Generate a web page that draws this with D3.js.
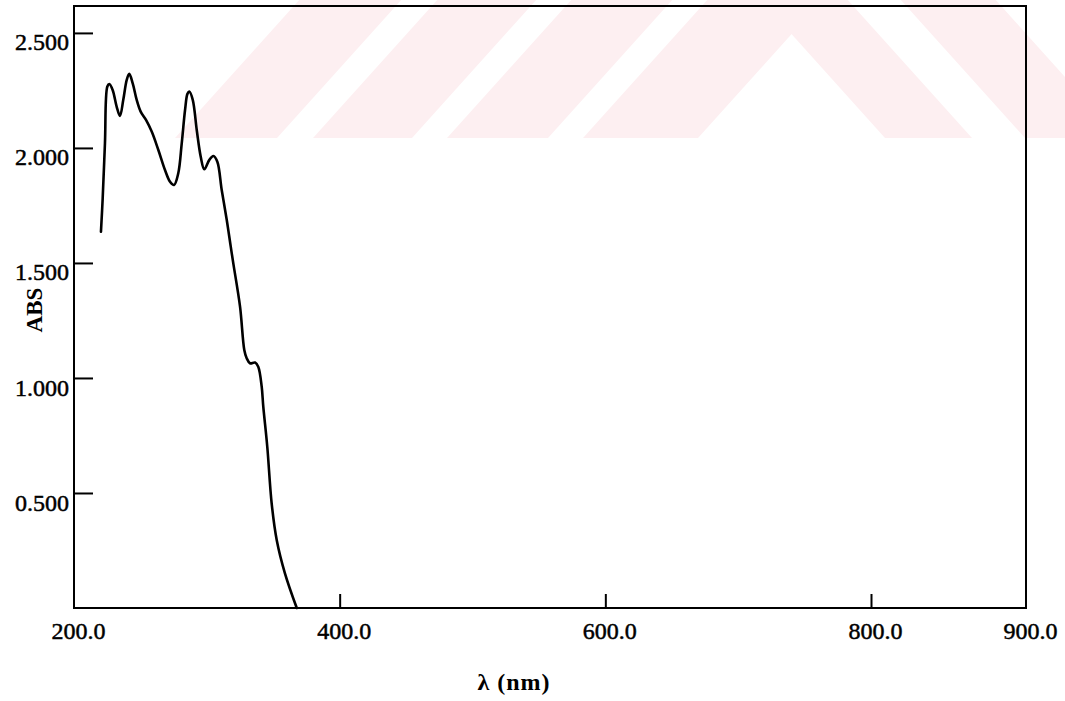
<!DOCTYPE html>
<html>
<head>
<meta charset="utf-8">
<script src="https://cdn.jsdelivr.net/npm/d3@7"></script>
<style>
  html, body { margin: 0; padding: 0; background: #fff; }
  svg { display: block; }
</style>
</head>
<body>
<svg id="chart" width="1065" height="701"></svg>
<script>
// ---- data ----
const wavelength = [220.3, 221.6, 223.3, 225.1, 226.6, 229.1, 232.1, 234.6, 237.1, 239.7,
  241.6, 244.2, 247.2, 250.2, 254.2, 258.5, 263.5, 268.5, 272.3, 275.3,
  278.5, 281.1, 283.6, 285.4, 286.8, 289.4, 292.4, 295.4, 298.1, 301.9,
  304.9, 307.9, 311.2, 315.0, 318.0, 319.9, 325.0, 328.2, 330.0, 332.5,
  336.3, 338.7, 341.3, 342.5, 345.5, 348.8, 352.6, 358.8, 367.7];
const absorbance = [1.636, 1.781, 2.020, 2.267, 2.278, 2.252, 2.180, 2.139, 2.209, 2.296,
  2.322, 2.281, 2.209, 2.158, 2.122, 2.071, 1.991, 1.904, 1.853, 1.839,
  1.890, 2.020, 2.165, 2.235, 2.245, 2.209, 2.078, 1.962, 1.907, 1.948,
  1.965, 1.940, 1.817, 1.687, 1.571, 1.499, 1.310, 1.122, 1.086, 1.064,
  1.067, 1.049, 0.962, 0.875, 0.701, 0.455, 0.296, 0.151, 0.000];
const xTickLabels = [200, 400, 600, 800, 900];
const xTickMarks = [400, 600, 800];
const yTicks = [0.5, 1.0, 1.5, 2.0, 2.5];
const xTitle = "λ (nm)";
const yTitle = "ABS";

// ---- decoration: faint background watermark stripes (bottom edges) ----
const wmRight = [[175, 277], [313, 412], [447, 548], [583, 698]];
const wmLeft = [[885, 972], [1025, 1120]];

const svg = d3.select("#chart");
const font = "'Liberation Serif', 'Times New Roman', serif";

const x = d3.scaleLinear().domain([200, 800, 900]).range([74, 871, 1026]);
const y = d3.scaleLinear().domain([0, 2.617]).range([608, 6]);

// watermark
const wmH = 138, wmS = 0.9;
const wm = svg.append("g").attr("fill", "#fdeff1");
wmRight.forEach(([a, b]) => {
  wm.append("polygon").attr("points",
    [[a, wmH], [b, wmH], [b + wmH * wmS, 0], [a + wmH * wmS, 0]].map(p => p.join(",")).join(" "));
});
wmLeft.forEach(([a, b]) => {
  wm.append("polygon").attr("points",
    [[a, wmH], [b, wmH], [b - wmH * wmS, 0], [a - wmH * wmS, 0]].map(p => p.join(",")).join(" "));
});

// frame
const [x0, x1] = [x(200), x(900)];
const [yb, yt] = [y(0), y(2.617)];
svg.append("rect")
  .attr("x", x0).attr("y", yt)
  .attr("width", x1 - x0).attr("height", yb - yt)
  .attr("fill", "none").attr("stroke", "#000").attr("stroke-width", 2);

// x axis
const xAxis = svg.append("g")
  .attr("transform", `translate(0,${yb})`)
  .call(d3.axisBottom(x).tickValues(xTickLabels).tickSizeInner(-14).tickSizeOuter(0)
    .tickPadding(14).tickFormat(d3.format(".1f")));
xAxis.select(".domain").remove();
xAxis.selectAll(".tick line")
  .attr("stroke", "#000").attr("stroke-width", 2)
  .attr("display", d => xTickMarks.includes(d) ? null : "none");
xAxis.selectAll(".tick text")
  .attr("fill", "#000").attr("stroke", "#000").attr("stroke-width", 0.5)
  .attr("font-family", font).attr("font-size", 24)
  .attr("dx", 4).attr("dy", "0.71em");

// y axis
const yAxis = svg.append("g")
  .attr("transform", `translate(${x0},0)`)
  .call(d3.axisLeft(y).tickValues(yTicks).tickSizeInner(-19).tickSizeOuter(0)
    .tickPadding(5).tickFormat(d3.format(".3f")));
yAxis.select(".domain").remove();
yAxis.selectAll(".tick line").attr("stroke", "#000").attr("stroke-width", 2);
yAxis.selectAll(".tick text")
  .attr("fill", "#000").attr("stroke", "#000").attr("stroke-width", 0.5)
  .attr("font-family", font).attr("font-size", 24)
  .attr("dy", "0.71em");

// curve
const pts = wavelength.map((w, i) => [w, absorbance[i]]);
const line = d3.line()
  .x(d => x(d[0])).y(d => y(d[1]))
  .curve(d3.curveCatmullRom.alpha(0.5));
svg.append("path")
  .datum(pts)
  .attr("d", line)
  .attr("fill", "none").attr("stroke", "#000")
  .attr("stroke-width", 2.6).attr("stroke-linejoin", "round").attr("stroke-linecap", "round");

// titles
svg.append("text")
  .attr("x", 514).attr("y", 690)
  .attr("text-anchor", "middle")
  .attr("font-family", font).attr("font-size", 24).attr("font-weight", "bold")
  .attr("letter-spacing", 1)
  .text(xTitle);
svg.append("text")
  .attr("transform", "translate(42,310) rotate(-90)")
  .attr("text-anchor", "middle")
  .attr("font-family", font).attr("font-size", 23).attr("font-weight", "bold")
  .text(yTitle);
</script>
</body>
</html>
